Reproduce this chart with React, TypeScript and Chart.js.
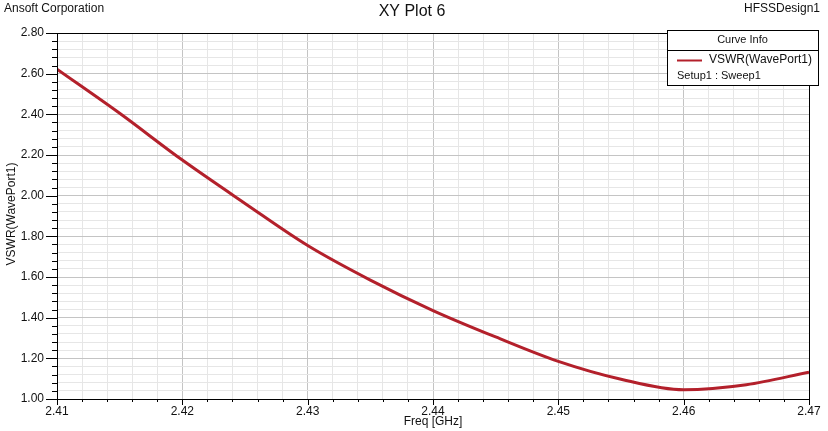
import React, { useEffect, useRef } from "react";
import { Chart, registerables } from "chart.js";

Chart.register(...registerables);

const freqGHz = [2.41, 2.415, 2.42, 2.425, 2.43, 2.435, 2.44, 2.445, 2.45, 2.455, 2.46, 2.465, 2.47];
const vswr = [2.622, 2.405, 2.175, 1.962, 1.755, 1.585, 1.435, 1.305, 1.185, 1.097, 1.045, 1.07, 1.132];

const seriesName = "VSWR(WavePort1)";
const seriesSub = "Setup1 : Sweep1";
const chartTitle = "XY Plot 6";
const leftNote = "Ansoft Corporation";
const rightNote = "HFSSDesign1";
const xTitle = "Freq [GHz]";
const yTitle = "VSWR(WavePort1)";

const FONT = "'Liberation Sans', Arial, sans-serif";
const LINE_COLOR = "#b3202b";

const isMajorX = (v: number) => Math.round(v * 1000) % 10 === 0;
const isMajorY = (v: number) => Math.round(v * 100) % 20 === 0;

const decorPlugin = {
  id: "decor",
  afterDraw(chart: any) {
    const ctx = chart.ctx as CanvasRenderingContext2D;
    const { left, right, top, bottom } = chart.chartArea;
    const xs = chart.scales.x;
    const ys = chart.scales.y;
    ctx.save();
    // plot border
    ctx.strokeStyle = "#000";
    ctx.lineWidth = 1;
    ctx.strokeRect(Math.round(left) + 0.5, Math.round(top) + 0.5, Math.round(right - left), Math.round(bottom - top));
    // y ticks
    ys.ticks.forEach((t: any) => {
      const y = Math.round(ys.getPixelForValue(t.value)) + 0.5;
      const len = isMajorY(t.value) ? 11 : 5;
      ctx.beginPath();
      ctx.moveTo(left - len, y);
      ctx.lineTo(left, y);
      ctx.stroke();
    });
    // x ticks
    xs.ticks.forEach((t: any) => {
      const x = Math.round(xs.getPixelForValue(t.value)) + 0.5;
      const len = isMajorX(t.value) ? 6 : 3;
      ctx.beginPath();
      ctx.moveTo(x, bottom);
      ctx.lineTo(x, bottom + len);
      ctx.stroke();
    });
    // header texts
    ctx.fillStyle = "#111";
    ctx.textBaseline = "middle";
    ctx.font = `12px ${FONT}`;
    ctx.textAlign = "left";
    ctx.fillText(leftNote, 4, 9);
    ctx.textAlign = "right";
    ctx.fillText(rightNote, 820, 9);
    ctx.textAlign = "center";
    ctx.font = `16px ${FONT}`;
    ctx.fillText(chartTitle, 412, 12);
    // axis titles
    ctx.font = `12px ${FONT}`;
    ctx.fillText(xTitle, (left + right) / 2, 422);
    ctx.save();
    ctx.translate(12, (top + bottom) / 2 - 2);
    ctx.rotate(-Math.PI / 2);
    ctx.fillText(yTitle, 0, 0);
    ctx.restore();
    // legend box
    const bx = 667, by = 30, bw = 151, bh = 55;
    ctx.fillStyle = "#fff";
    ctx.fillRect(bx, by, bw, bh);
    ctx.strokeStyle = "#000";
    ctx.strokeRect(bx + 0.5, by + 0.5, bw, bh);
    ctx.beginPath();
    ctx.moveTo(bx, by + 20.5);
    ctx.lineTo(bx + bw, by + 20.5);
    ctx.stroke();
    ctx.fillStyle = "#111";
    ctx.font = `11px ${FONT}`;
    ctx.textAlign = "center";
    ctx.fillText("Curve Info", bx + bw / 2, by + 10);
    ctx.strokeStyle = LINE_COLOR;
    ctx.lineWidth = 2;
    ctx.beginPath();
    ctx.moveTo(677, 60.5);
    ctx.lineTo(702, 60.5);
    ctx.stroke();
    ctx.textAlign = "left";
    ctx.font = `12px ${FONT}`;
    ctx.fillText(seriesName, 709, 60);
    ctx.font = `11px ${FONT}`;
    ctx.fillText(seriesSub, 677, 76);
    ctx.restore();
  },
};

export default function App() {
  const ref = useRef<HTMLCanvasElement | null>(null);
  useEffect(() => {
    if (!ref.current) return;
    const chart = new Chart(ref.current, {
      type: "line",
      data: {
        datasets: [
          {
            label: seriesName,
            data: freqGHz.map((f, i) => ({ x: f, y: vswr[i] })),
            borderColor: LINE_COLOR,
            borderWidth: 3,
            pointRadius: 0,
            cubicInterpolationMode: "monotone",
            fill: false,
          },
        ],
      },
      options: {
        animation: false,
        responsive: false,
        devicePixelRatio: 1,
        layout: { padding: { top: 33, right: 19, left: 0, bottom: 0 } },
        plugins: { legend: { display: false }, title: { display: false }, tooltip: { enabled: false } },
        scales: {
          x: {
            type: "linear",
            min: 2.41,
            max: 2.47,
            afterFit: (s: any) => {
              s.height = 32;
            },
            border: { display: false },
            grid: {
              drawTicks: false,
              color: (c: any) => (c.tick && isMajorX(c.tick.value) ? "#c4c4c4" : "#e6e6e6"),
              lineWidth: 1,
            },
            ticks: {
              stepSize: 0.002,
              autoSkip: false,
              maxRotation: 0,
              padding: 5,
              color: "#111",
              font: { family: FONT, size: 12 },
              callback: (v: any) => (isMajorX(Number(v)) ? Number(v).toFixed(2) : ""),
            },
          },
          y: {
            type: "linear",
            min: 1.0,
            max: 2.8,
            afterFit: (s: any) => {
              s.width = 57;
            },
            border: { display: false },
            grid: {
              drawTicks: false,
              color: (c: any) => (c.tick && isMajorY(c.tick.value) ? "#c4c4c4" : "#e6e6e6"),
              lineWidth: 1,
            },
            ticks: {
              stepSize: 0.04,
              autoSkip: false,
              padding: 13,
              color: "#111",
              font: { family: FONT, size: 12 },
              callback: (v: any) => (isMajorY(Number(v)) ? Number(v).toFixed(2) : ""),
            },
          },
        },
      },
      plugins: [decorPlugin],
    } as any);
    return () => chart.destroy();
  }, []);
  return (
    <div style={{ position: "absolute", left: 0, top: 0, width: 828, height: 431, background: "#fff" }}>
      <canvas ref={ref} width={828} height={431} style={{ display: "block", width: 828, height: 431 }} />
    </div>
  );
}
